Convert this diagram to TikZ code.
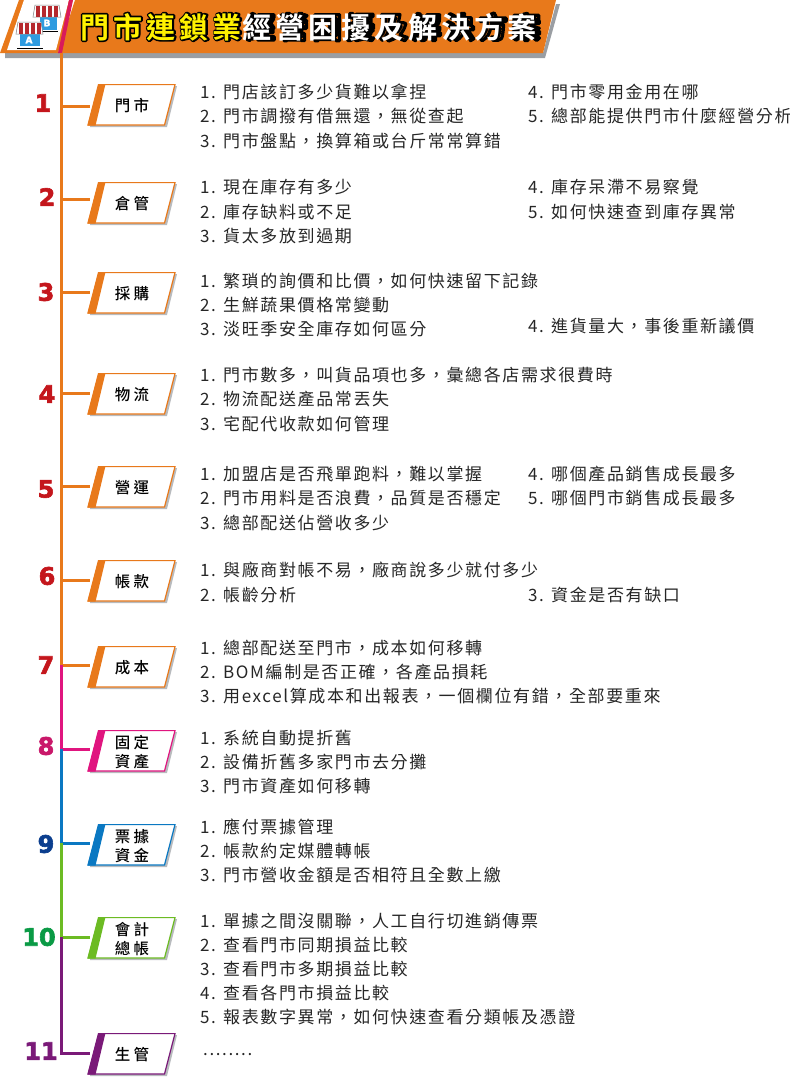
\documentclass[tikz,border=0pt]{standalone}
\usepackage{fontspec}
\setmainfont{Noto Sans CJK TC}
\newfontfamily\bodyfont[LetterSpace=9.5]{Noto Sans CJK TC}
\newfontfamily\tagfont[LetterSpace=22]{Noto Sans CJK TC Medium}
\newfontfamily\titlefont[LetterSpace=14.5]{Noto Sans CJK TC Bold}
\newfontfamily\numfont[FakeBold=2.5]{DejaVu Sans Bold}
\definecolor{lineorange}{HTML}{E8791B}
\definecolor{linepink}{HTML}{E0157F}
\definecolor{lineblue}{HTML}{0A78C2}
\definecolor{linegreen}{HTML}{6CBB23}
\definecolor{linepurple}{HTML}{7A1A78}
\definecolor{shadowgray}{HTML}{9A9EA3}
\definecolor{numred}{HTML}{C4161C}
\definecolor{numpink}{HTML}{C9186A}
\definecolor{numblue}{HTML}{0B3E8E}
\definecolor{numgreen}{HTML}{0A9A45}
\definecolor{titleyellow}{HTML}{FFF200}
\definecolor{shopblue}{HTML}{2E9BE0}
\definecolor{shopred}{HTML}{B5292E}
\definecolor{accent}{HTML}{D91A5B}
\tikzset{
  item/.style={anchor=west, inner sep=0pt, yshift=-0.3pt, font=\fontsize{17}{20}\bodyfont, text=black!85},
  tagtext/.style={minimum width=84pt, minimum height=40pt, inner sep=0pt, align=center, font=\fontsize{15.5}{18.5}\tagfont},
  num/.style={inner sep=0pt, font=\fontsize{24}{24}\numfont},
  branch/.style={line width=3pt},
  titletext/.style={inner sep=0pt, anchor=west, font=\fontsize{29}{29}\titlefont}
}
% #1 name, #2 top y, #3 colour, #4 text
\newcommand{\tagbox}[4]{
  \fill[shadowgray!70] (90,#2+43) -- (101,#2+2) -- (177,#2+2) -- (167,#2+43) -- cycle;
  \draw[#3, fill=white, line width=1.2pt] (88,#2+41) -- (98.5,#2+0.6) -- (175,#2+0.6) -- (164.5,#2+41) -- cycle;
  \fill[#3] (87.5,#2+41.6) -- (98.5,#2) -- (105.5,#2) -- (95.5,#2+41.6) -- cycle;
  \node[tagtext] (#1) at (132,#2+22) {#4};
}
\newcommand{\strokedtext}[1]{\special{pdf:code q 1 Tr 3.2 w 1 j 0 0 0 RG}#1\special{pdf:code Q}}
\begin{document}
\begin{tikzpicture}[x=1pt, y=-1pt]
\useasboundingbox (0,0) rectangle (790,1077);

%banner
\fill[shadowgray] (5,53) -- (5,58) -- (545,58) -- (560,4) -- (556,4) -- (543,53) -- cycle;
\fill[lineorange] (58,53) -- (75,0) -- (556,0) -- (543,53) -- cycle;
\node[titletext] (titleback) at (80,27) {\strokedtext{門市連鎖業經營困擾及解決方案}};
\node[titletext] (title) at (80,27) {\textcolor{titleyellow}{門市連鎖業}\textcolor{white}{經營困擾及解決方案}};

%icon
\fill[lineorange] (0,53) -- (19,0) -- (73,0) -- (58,53) -- cycle;
\fill[white] (7,50) -- (24,0) -- (69,0) -- (56,50) -- cycle;
\fill[accent] (69,0) -- (73,0) -- (62,53) -- (58,53) -- cycle;
\fill[shopblue] (40,17) rectangle (57,30);
\draw[black, line width=1pt] (38,31.5) -- (58,31.5);
\fill[white, draw=gray, line width=.5pt] (33,17) -- (35,5) -- (59,5) -- (61,17) -- cycle;
\foreach \sx in {36,42,48,54}{\fill[shopred] (\sx,5.5) rectangle (\sx+3.5,16.5);}
\node[inner sep=0pt, font=\fontsize{9}{9}\numfont, text=white] (shopb) at (47,23) {B};
\fill[shopblue] (20,34) rectangle (40,46);
\draw[black, line width=1pt] (17,48) -- (43,48);
\fill[white, draw=gray, line width=.5pt] (16,34) -- (18,22) -- (41,22) -- (43,34) -- cycle;
\foreach \sx in {19,25,31,37}{\fill[shopred] (\sx,22.5) rectangle (\sx+3.5,33.5);}
\node[inner sep=0pt, font=\fontsize{9}{9}\numfont, text=white] (shopa) at (29,40) {A};

%tags
\tagbox{cat1}{84}{lineorange}{門市}
\tagbox{cat2}{182}{lineorange}{倉管}
\tagbox{cat3}{272}{lineorange}{採購}
\tagbox{cat4}{373}{lineorange}{物流}
\tagbox{cat5}{466}{lineorange}{營運}
\tagbox{cat6}{560}{lineorange}{帳款}
\tagbox{cat7}{646}{lineorange}{成本}
\tagbox{cat8}{730}{linepink}{固定\\資產}
\tagbox{cat9}{824}{lineblue}{票據\\資金}
\tagbox{cat10}{917}{linegreen}{會計\\總帳}
\tagbox{cat11}{1033}{linepurple}{生管}

%spine
\coordinate (top) at (61,53);
\coordinate (j1) at (61,106);
\coordinate (j2) at (61,199);
\coordinate (j3) at (61,292);
\coordinate (j4) at (61,393);
\coordinate (j5) at (61,486);
\coordinate (j6) at (61,580);
\coordinate (j7) at (61,665);
\coordinate (j8) at (61,749);
\coordinate (j9) at (61,843);
\coordinate (j10) at (61,937);
\coordinate (j11) at (61,1053);
\draw[branch, lineorange] (top) -- (j7) -- (j7 -| cat7.west);
\draw[branch, lineorange] (j1) -- (j1 -| cat1.west);
\draw[branch, lineorange] (j2) -- (j2 -| cat2.west);
\draw[branch, lineorange] (j3) -- (j3 -| cat3.west);
\draw[branch, lineorange] (j4) -- (j4 -| cat4.west);
\draw[branch, lineorange] (j5) -- (j5 -| cat5.west);
\draw[branch, lineorange] (j6) -- (j6 -| cat6.west);
\draw[branch, linepink] (j7) -- (j8) -- (j8 -| cat8.west);
\draw[branch, lineblue] (j8) -- (j9) -- (j9 -| cat9.west);
\draw[branch, linegreen] (j9) -- (j10) -- (j10 -| cat10.west);
\draw[branch, linepurple] (j10) -- (j11) -- (j11 -| cat11.west);

%numbers
\node[num, text=numred] (n1) at (43,103) {1};
\node[num, text=numred] (n2) at (47,197) {2};
\node[num, text=numred] (n3) at (46,292) {3};
\node[num, text=numred] (n4) at (47,394) {4};
\node[num, text=numred] (n5) at (46,489) {5};
\node[num, text=numred] (n6) at (47,576) {6};
\node[num, text=numred] (n7) at (46,665) {7};
\node[num, text=numpink] (n8) at (46,746) {8};
\node[num, text=numblue] (n9) at (46,844) {9};
\node[num, text=numgreen] (n10) at (39,937) {10};
\node[num, text=linepurple] (n11) at (41,1051) {11};

%store
\node[item] (a1) at (200,92) {1. 門店該訂多少貨難以拿捏};
\node[item] (a2) at (200,116) {2. 門市調撥有借無還，無從查起};
\node[item] (a3) at (200,141) {3. 門市盤點，換算箱或台斤常常算錯};
\node[item] (a4) at (528,92) {4. 門市零用金用在哪};
\node[item] (a5) at (528,116) {5. 總部能提供門市什麼經營分析};

%warehouse
\node[item] (b1) at (200,187) {1. 現在庫存有多少};
\node[item] (b2) at (200,212) {2. 庫存缺料或不足};
\node[item] (b3) at (200,236) {3. 貨太多放到過期};
\node[item] (b4) at (528,187) {4. 庫存呆滯不易察覺};
\node[item] (b5) at (528,212) {5. 如何快速查到庫存異常};

%purchase
\node[item] (c1) at (200,281) {1. 繁瑣的詢價和比價，如何快速留下記錄};
\node[item] (c2) at (200,305) {2. 生鮮蔬果價格常變動};
\node[item] (c3) at (200,329) {3. 淡旺季安全庫存如何區分};
\node[item] (c4) at (528,326) {4. 進貨量大，事後重新議價};

%logistics
\node[item] (d1) at (200,375) {1. 門市數多，叫貨品項也多，彙總各店需求很費時};
\node[item] (d2) at (200,399) {2. 物流配送產品常丟失};
\node[item] (d3) at (200,424) {3. 宅配代收款如何管理};

%operation
\node[item] (e1) at (200,474) {1. 加盟店是否飛單跑料，難以掌握};
\node[item] (e2) at (200,498) {2. 門市用料是否浪費，品質是否穩定};
\node[item] (e3) at (200,523) {3. 總部配送佔營收多少};
\node[item] (e4) at (528,474) {4. 哪個產品銷售成長最多};
\node[item] (e5) at (528,498) {5. 哪個門市銷售成長最多};

%accounts
\node[item] (f1) at (200,570) {1. 與廠商對帳不易，廠商說多少就付多少};
\node[item] (f2) at (200,595) {2. 帳齡分析};
\node[item] (f3) at (528,595) {3. 資金是否有缺口};

%cost
\node[item] (g1) at (200,648) {1. 總部配送至門市，成本如何移轉};
\node[item] (g2) at (200,672) {2. BOM編制是否正確，各產品損耗};
\node[item] (g3) at (200,696) {3. 用excel算成本和出報表，一個欄位有錯，全部要重來};

%assets
\node[item] (h1) at (200,738) {1. 系統自動提折舊};
\node[item] (h2) at (200,762) {2. 設備折舊多家門市去分攤};
\node[item] (h3) at (200,786) {3. 門市資產如何移轉};

%bills
\node[item] (i1) at (200,827) {1. 應付票據管理};
\node[item] (i2) at (200,851) {2. 帳款約定媒體轉帳};
\node[item] (i3) at (200,875) {3. 門市營收金額是否相符且全數上繳};

%ledger
\node[item] (k1) at (200,921) {1. 單據之間沒關聯，人工自行切進銷傳票};
\node[item] (k2) at (200,945) {2. 查看門市同期損益比較};
\node[item] (k3) at (200,969) {3. 查看門市多期損益比較};
\node[item] (k4) at (200,993) {4. 查看各門市損益比較};
\node[item] (k5) at (200,1017) {5. 報表數字異常，如何快速查看分類帳及憑證};

%production
\node[item] (m1) at (203,1054.5) {........};
\end{tikzpicture}
\end{document}
